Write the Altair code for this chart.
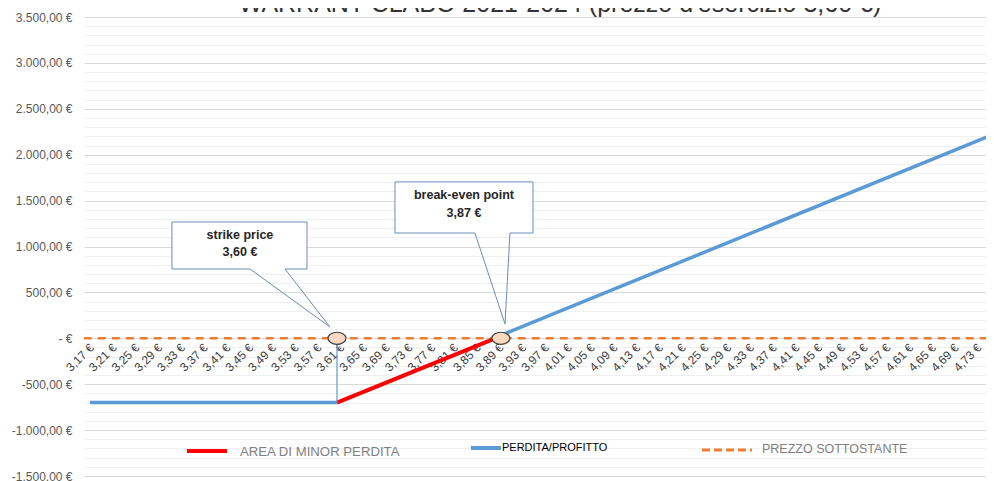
import altair as alt
import pandas as pd

# ---------------- data ----------------
# flat loss segment (blue) and rising profit segment (blue)
perdita_prezzo_1 = [3.166, 3.60]
perdita_valore_1 = [-700, -700]
profitto_prezzo_2 = [3.89, 4.755]
profitto_valore_2 = [38, 2225]
# area di minor perdita (red)
minor_prezzo = [3.60, 3.878]
minor_valore = [-700, 0]
# prezzo sottostante (orange dashed, at zero)
sott_prezzo = [3.155, 4.77]
sott_valore = [0, 0]
# markers: strike price and break-even point
marker_prezzo = [3.60, 3.888]
marker_valore = [0, 0]
# drop line at strike
drop_prezzo = [3.60]
drop_da = [0]
drop_a = [-700]

x_tick_values = [3.17, 3.21, 3.25, 3.29, 3.33, 3.37, 3.41, 3.45, 3.49, 3.53,
                 3.57, 3.61, 3.65, 3.69, 3.73, 3.77, 3.81, 3.85, 3.89, 3.93,
                 3.97, 4.01, 4.05, 4.09, 4.13, 4.17, 4.21, 4.25, 4.29, 4.33,
                 4.37, 4.41, 4.45, 4.49, 4.53, 4.57, 4.61, 4.65, 4.69, 4.73]
y_grid_values = list(range(-1500, 3501, 100))

title_text = "WARRANT CLABO 2021-2024 (prezzo d'esercizio 3,60 €)"

# callouts (data coordinates): box left/right/top/bottom, wedge base A/B, tip
callout_ids = ["strike", "breakeven"]
callout_left = [3.310, 3.7019]
callout_right = [3.5473, 3.9445]
callout_top = [1267, 1703]
callout_bottom = [755, 1147]
callout_wa = [3.4471, 3.8425]
callout_wb = [3.5086, 3.904]
callout_tip_p = [3.5877, 3.8953]
callout_tip_v = [123, 156]
callout_text_p = [3.4295, 3.8232]
callout_line1 = ["strike price", "break-even point"]
callout_line1_v = [1125, 1561]
callout_line2 = ["3,60 €", "3,87 €"]
callout_line2_v = [940, 1365]

# ---------------- tables ----------------
blue_df = pd.DataFrame({
    "p": perdita_prezzo_1 + profitto_prezzo_2,
    "v": perdita_valore_1 + profitto_valore_2,
    "seg": ["a"] * len(perdita_prezzo_1) + ["b"] * len(profitto_prezzo_2),
})
red_df = pd.DataFrame({"p": minor_prezzo, "v": minor_valore})
orange_df = pd.DataFrame({"p": sott_prezzo, "v": sott_valore})
marker_df = pd.DataFrame({"p": marker_prezzo, "v": marker_valore})
drop_df = pd.DataFrame({"p": drop_prezzo, "v": drop_da, "v2": drop_a})

outline_rows = []
wedge_rows = []
rect_rows = []
text_rows = []
for i, cid in enumerate(callout_ids):
    L, R, T, B = callout_left[i], callout_right[i], callout_top[i], callout_bottom[i]
    a, b = callout_wa[i], callout_wb[i]
    tp, tv = callout_tip_p[i], callout_tip_v[i]
    pts = [(L, T), (R, T), (R, B), (b, B), (tp, tv), (a, B), (L, B), (L, T)]
    for k, (pp, vv) in enumerate(pts):
        outline_rows.append({"id": cid, "k": k, "p": pp, "v": vv})
    rect_rows.append({"p": L, "p2": R, "v": T, "v2": B})
    # wedge fill (triangle) as an area between edges
    if tp > b:
        vb = B + (tv - B) * (b - a) / (tp - a)
        wedge = [(a, B, B), (b, B, vb), (tp, tv, tv)]
    else:
        wedge = [(a, B, B), (tp, B, tv), (b, B, B)]
    for k, (pp, top, bot) in enumerate(wedge):
        wedge_rows.append({"id": cid, "k": k, "p": pp, "v": top, "v2": bot})
    text_rows.append({"p": callout_text_p[i], "v": callout_line1_v[i], "t": callout_line1[i]})
    text_rows.append({"p": callout_text_p[i], "v": callout_line2_v[i], "t": callout_line2[i]})

outline_df = pd.DataFrame(outline_rows)
wedge_df = pd.DataFrame(wedge_rows)
rect_df = pd.DataFrame(rect_rows)
text_df = pd.DataFrame(text_rows)

# ---------------- scales / axes ----------------
FONT = "Liberation Sans"
W, H = 910, 459
xscale = alt.Scale(domain=[3.1554, 4.7547], nice=False, zero=False)
yscale = alt.Scale(domain=[-1500, 3500], nice=False, zero=False)

x_axis = alt.Axis(
    values=x_tick_values,
    labelExpr="replace(format(datum.value, '.2f'), '.', ',') + ' €'",
    labelAngle=-45, labelAlign="right", labelBaseline="middle",
    ticks=False, domain=False, grid=False, orient="bottom",
    offset=-137.7, labelPadding=7, labelOffset=-1,
    labelFont=FONT, labelFontSize=12, labelColor="#404040",
    labelOverlap=False, labelFlush=False, labelBound=False, title=None,
)
y_axis = alt.Axis(
    values=y_grid_values,
    labelExpr=("datum.value % 500 !== 0 ? '' : (datum.value === 0 ? '-    €' : "
               "(datum.value < 0 ? '-' : '') + replace(replace(replace(format(abs(datum.value), ',.2f'), ',', 'X'), '.', ','), 'X', '.') + ' €')"),
    ticks=False, domain=False, grid=True,
    gridColor={"condition": {"test": "datum.value % 500 === 0", "value": "#d9d9d9"}, "value": "#f0f0f0"},
    gridWidth=1,
    labelFont=FONT, labelFontSize=12, labelColor="#595959", labelPadding=12,
    labelOverlap=False, labelFlush=False, labelBound=False, title=None,
)
X = alt.X("p:Q", scale=xscale, axis=x_axis)
Y = alt.Y("v:Q", scale=yscale, axis=y_axis)

# ---------------- layers ----------------
orange = alt.Chart(orange_df).mark_line(
    color="#ED7D31", strokeWidth=2.5, strokeDash=[8, 6], clip=True
).encode(x=X, y=Y)

blue = alt.Chart(blue_df).mark_line(
    color="#5B9BD5", strokeWidth=3.5, clip=True
).encode(x=X, y=Y, detail="seg:N")

red = alt.Chart(red_df).mark_line(
    color="#FF0000", strokeWidth=4, clip=True
).encode(x=X, y=Y)

drop = alt.Chart(drop_df).mark_rule(
    color="#5B9BD5", strokeWidth=1.2
).encode(x=X, y=Y, y2="v2:Q")

box_fill = alt.Chart(rect_df).mark_rect(fill="white").encode(
    x=X, x2="p2:Q", y=Y, y2="v2:Q")

wedge_fill = alt.Chart(wedge_df).mark_area(fill="white", opacity=1).encode(
    x=X, y=Y, y2="v2:Q", detail="id:N", order="k:Q")

outline = alt.Chart(outline_df).mark_line(
    color="#6B8CBA", strokeWidth=1
).encode(x=X, y=Y, detail="id:N", order="k:Q")

callout_text = alt.Chart(text_df).mark_text(
    font=FONT, fontSize=12.5, fontWeight="bold", color="#262626",
    align="center", baseline="middle"
).encode(x=X, y=Y, text="t:N")

ellipse = "M-1,0A1,0.67,0,1,1,1,0A1,0.67,0,1,1,-1,0Z"
markers = alt.Chart(marker_df).mark_point(
    shape=ellipse, size=324, filled=True, fill="#F9D9BF",
    stroke="#404040", strokeWidth=1.2, opacity=1
).encode(x=X, y=Y)

# ---------------- legend (custom) ----------------
leg_df = pd.DataFrame({"d": [0]})
def leg_rule(x1, x2, y, color, width, dash=None):
    kw = dict(color=color, strokeWidth=width)
    if dash:
        kw["strokeDash"] = dash
    return alt.Chart(leg_df).mark_rule(**kw).encode(
        x=alt.value(x1), x2=alt.value(x2), y=alt.value(y))

def leg_text(x, y, txt, size, color):
    return alt.Chart(leg_df).mark_text(
        text=txt, font=FONT, fontSize=size, color=color,
        align="left", baseline="middle"
    ).encode(x=alt.value(x), y=alt.value(y))

legend = [
    leg_rule(103, 143, 434, "#FF0000", 4),
    leg_text(156, 435, "AREA DI MINOR PERDITA", 13.2, "#7F7F7F"),
    leg_rule(387, 417, 431, "#5B9BD5", 4),
    leg_text(418, 431, "PERDITA/PROFITTO", 11, "#000000"),
    leg_rule(618, 668, 433, "#ED7D31", 3, [8, 4]),
    leg_text(678, 432, "PREZZO SOTTOSTANTE", 12.5, "#7F7F7F"),
]

title = alt.Chart(leg_df).mark_text(
    text=title_text, font=FONT, fontSize=25, color="#333333",
    align="center", baseline="alphabetic"
).encode(x=alt.value(476), y=alt.value(-5))

chart = alt.layer(
    orange, blue, red, drop, box_fill, wedge_fill, outline,
    callout_text, markers, *legend, title
).properties(
    width=W, height=H,
    autosize="none",
    padding={"left": 76, "top": 9, "right": -8, "bottom": 5},
    background="white",
).configure_view(stroke=None)

chart.save("out.html", embed_options={"renderer": "svg", "actions": False})
